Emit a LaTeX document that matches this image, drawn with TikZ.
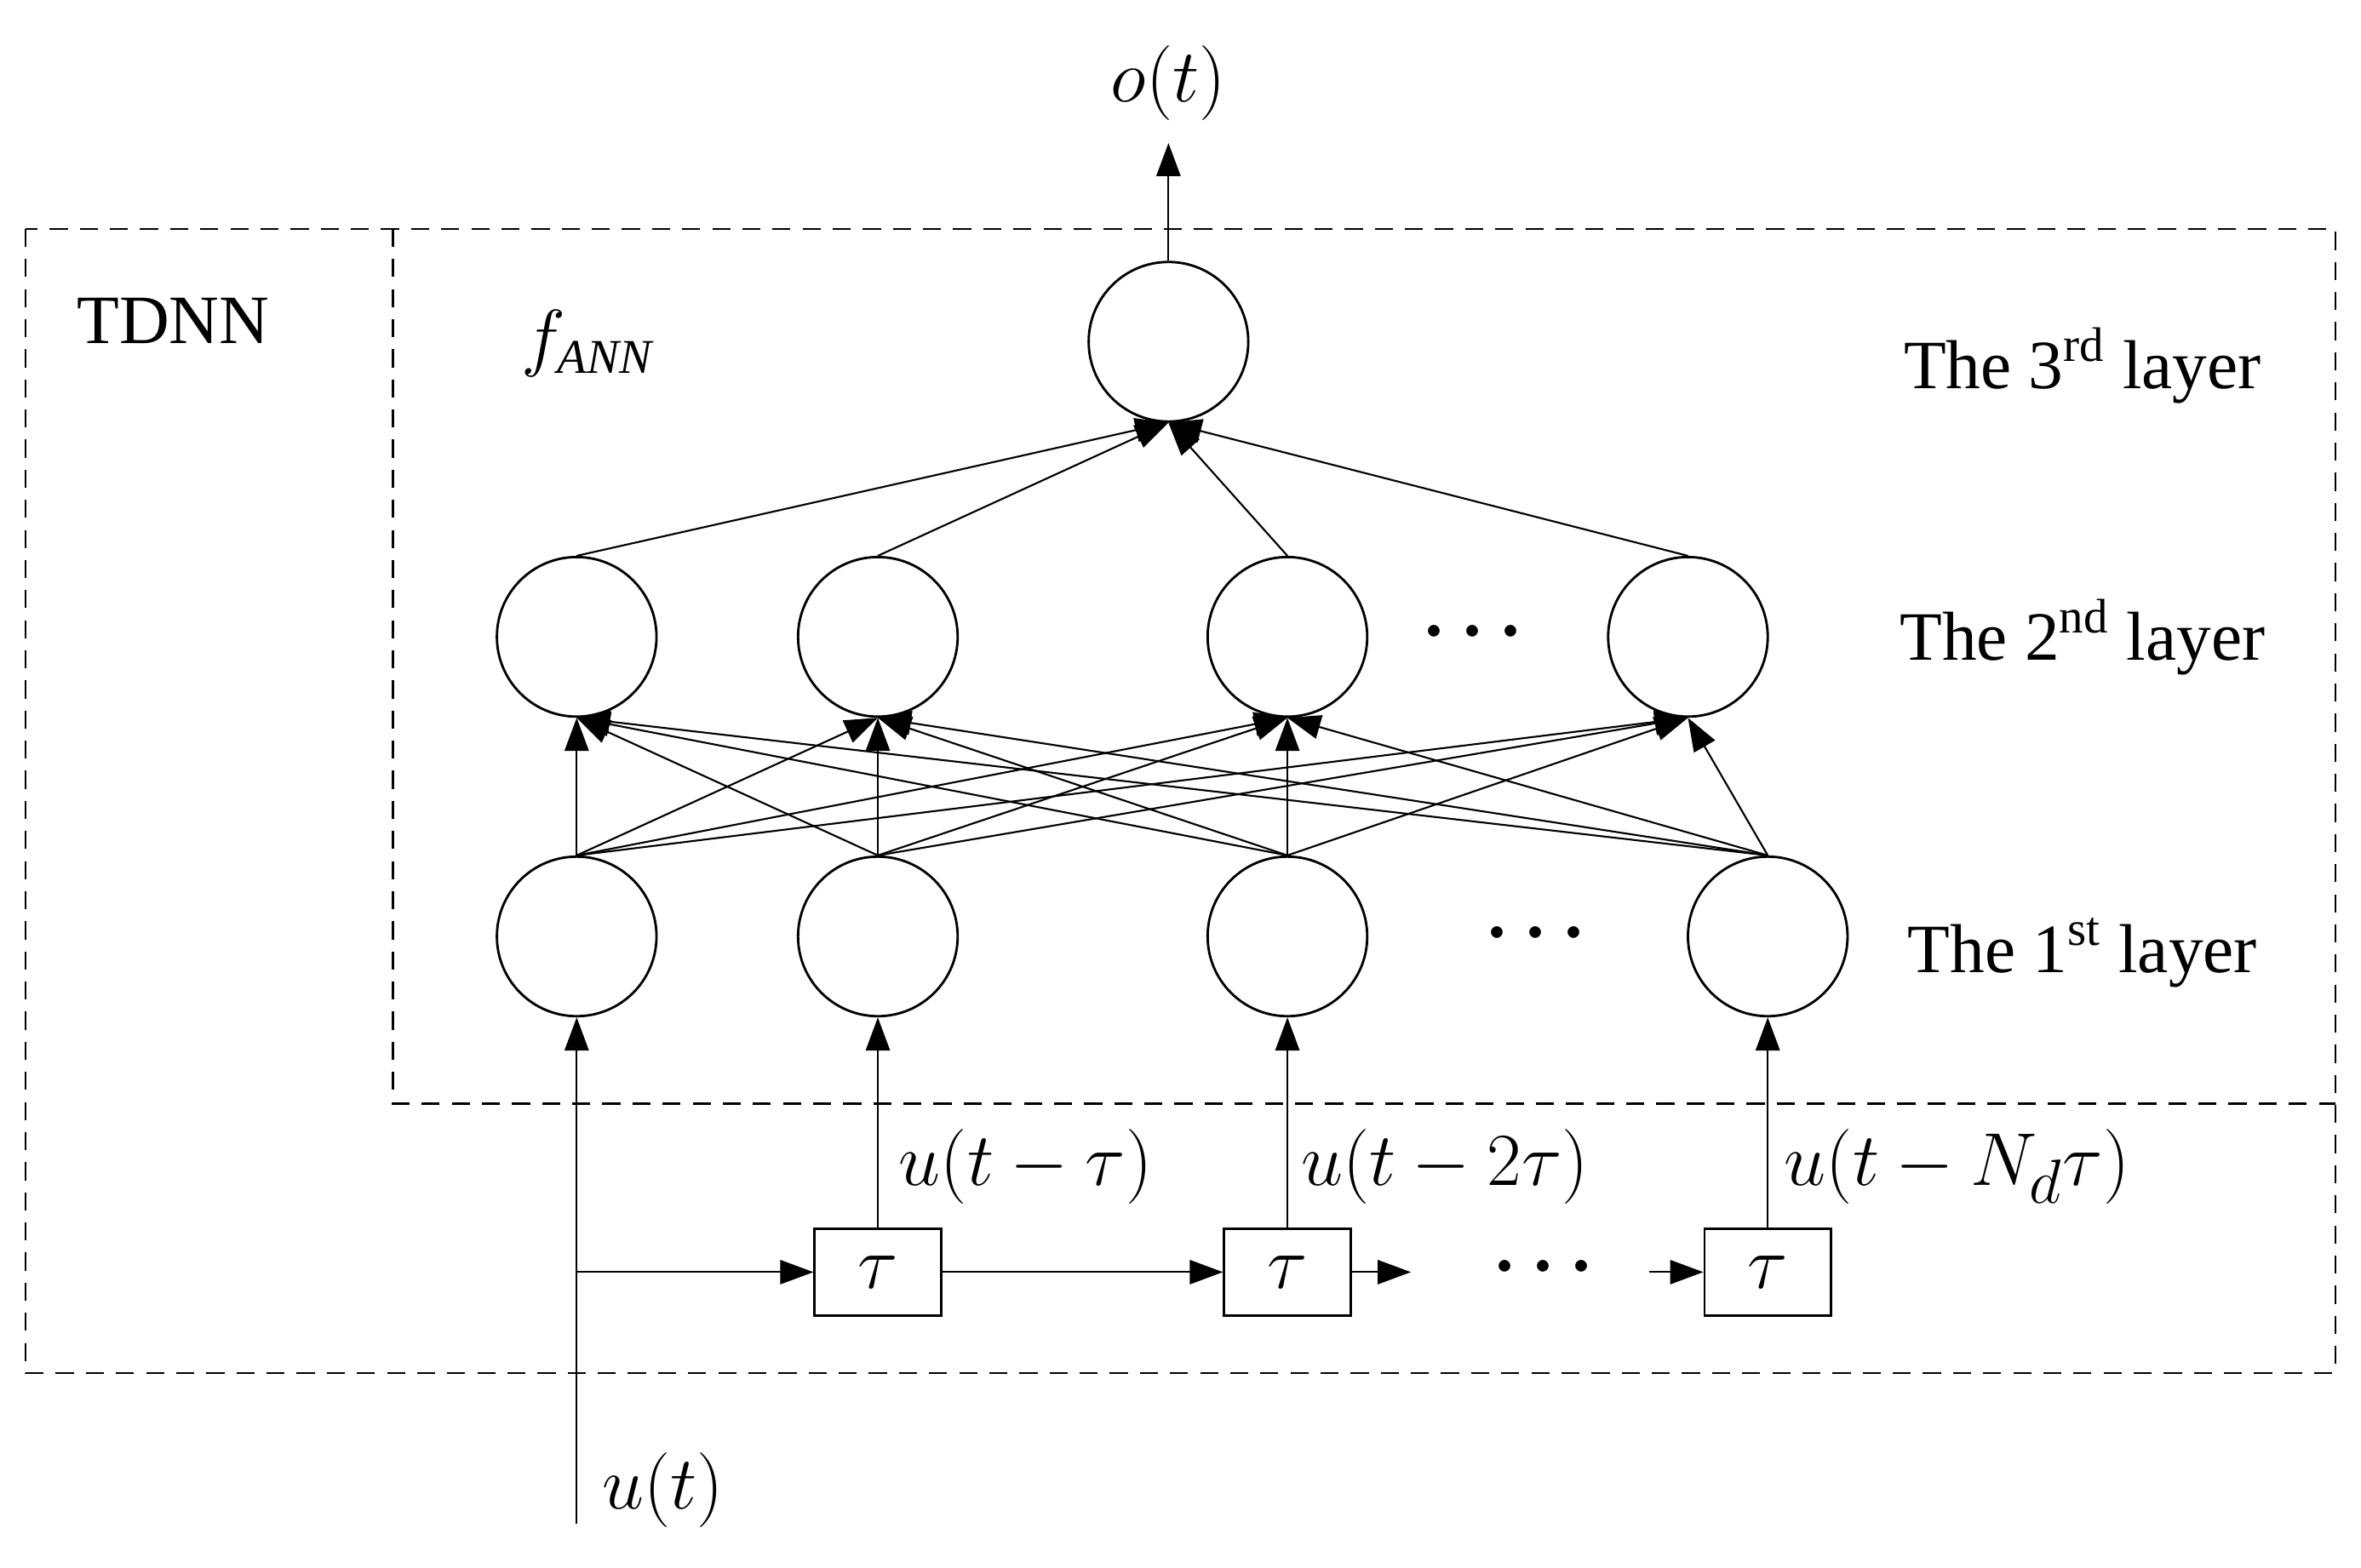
\documentclass[tikz,border=0pt]{standalone}
\usepackage{fontspec}
\setmainfont{Liberation Serif}
\usetikzlibrary{arrows.meta}
\begin{document}
\begin{tikzpicture}[x=0.5pt,y=-0.5pt,
  neu/.style={circle,draw,line width=0.8pt,minimum size=53pt,inner sep=0pt},
  dl/.style={rectangle,draw,line width=0.8pt,minimum width=42pt,minimum height=29pt,inner sep=0pt,font=\fontsize{26}{30}\selectfont},
  arr/.style={-{Triangle[length=11pt,width=8pt]},line width=0.6pt},
  lbl/.style={font=\fontsize{23}{27}\selectfont},
  dots/.style={font=\fontsize{26}{30}\selectfont\boldmath},
  ml/.style={font=\fontsize{28}{32}\selectfont},
  box/.style={dashed,dash pattern=on 6pt off 4pt,line width=0.7pt}]
\useasboundingbox (0,0) rectangle (1568,1041);
\draw[box] (17,152) rectangle (1551,912);
\draw[box] (261,152) -- (261,733) -- (1551,733);
\node[lbl] (tdnn) at (115,213) {TDNN};
\node[lbl] (fann) at (390,228) {$f_{\mathit{ANN}}$};
\node[neu] (o) at (776,227) {};
\foreach \n/\x in {1/383,2/583,3/855,4/1121} \node[neu] (b\n) at (\x,423) {};
\foreach \n/\x in {1/383,2/583,3/855,4/1174} \node[neu] (a\n) at (\x,622) {};
\node[dots] (d2) at (978,420) {$\cdots$};
\node[dots] (d1) at (1020,620) {$\cdots$};
\node[lbl] (l3) at (1383,243) {The 3\textsuperscript{rd} layer};
\node[lbl] (l2) at (1383,423) {The 2\textsuperscript{nd} layer};
\node[lbl] (l1) at (1383,633) {The 1\textsuperscript{st} layer};
\foreach \i in {1,...,4} \draw[arr] (b\i.north) -- (o.south);
\foreach \i in {1,...,4} \foreach \j in {1,...,4} \draw[arr] (a\i.north) -- (b\j.south);
\coordinate (otop) at (776,95);
\draw[arr] (o.north) -- (otop);
\node[ml] (ol) at (776,55) {$o\big(t\big)$};
\node[dl] (t1) at (583,845) {$\tau$};
\node[dl] (t2) at (855,845) {$\tau$};
\node[dl] (t3) at (1174,845) {$\tau$};
\coordinate (uin) at (383,1012);
\coordinate (br) at (383,845);
\draw[arr] (uin) -- (a1.south);
\draw[arr] (br) -- (t1.west);
\draw[arr] (t1.east) -- (t2.west);
\coordinate (s1) at (937,845);
\coordinate (s2) at (1095,845);
\draw[arr] (t2.east) -- (s1);
\draw[arr] (s2) -- (t3.west);
\node[dots] (d3) at (1025,842) {$\cdots$};
\draw[arr] (t1.north) -- (a2.south);
\draw[arr] (t2.north) -- (a3.south);
\draw[arr] (t3.north) -- (a4.south);
\node[ml,anchor=west] (u0) at (393,990) {$u\big(t\big)$};
\node[ml,anchor=west] (u1) at (590,775) {$u\big(t-\tau\big)$};
\node[ml,anchor=west] (u2) at (857,775) {$u\big(t-2\tau\big)$};
\node[ml,anchor=west] (u3) at (1178,775) {$u\big(t-N_d\tau\big)$};
\end{tikzpicture}
\end{document}
